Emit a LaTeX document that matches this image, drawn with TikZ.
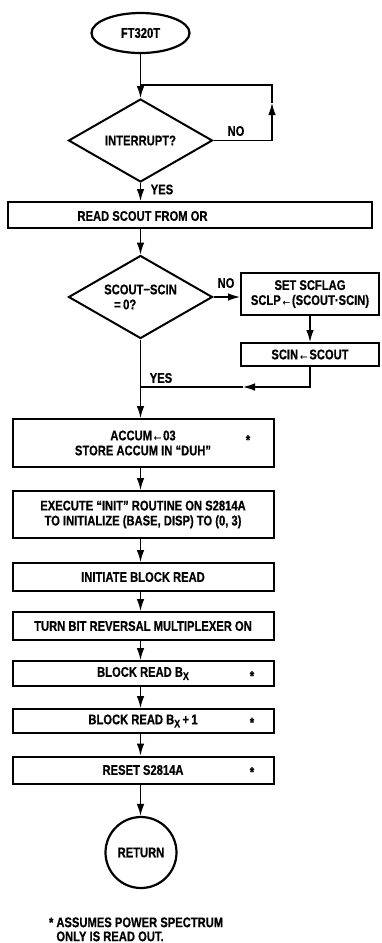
\documentclass[tikz,border=0pt]{standalone}
\usepackage{fontspec}
\setmainfont{Liberation Sans}[FakeStretch=0.8,BoldFeatures={FakeBold=0.6}]
\usepackage{tikz}
\usetikzlibrary{shapes.geometric,arrows.meta}
\newcommand{\fcsub}[1]{\raisebox{-1.6pt}{\fontsize{5.5}{6}\selectfont #1}}
\tikzset{
  fcbox/.style={rectangle,draw,line width=1pt,inner sep=1pt,align=center,minimum width=130.5pt},
  fcdec/.style={diamond,draw,line width=1pt,inner sep=0pt,aspect=1.7,minimum width=72pt,minimum height=41.5pt,align=center},
  fcterm/.style={ellipse,draw,line width=1.1pt,minimum width=49pt,minimum height=20pt},
  fcret/.style={circle,draw,line width=1.1pt,minimum size=35.5pt},
  fcflow/.style={-{Latex[length=6pt,width=3.8pt]},line width=0.65pt},
  fcline/.style={line width=0.65pt},
  fclab/.style={inner sep=0pt},
  fcstar/.style={inner sep=0pt}
}

\begin{document}
\begin{tikzpicture}[x=0.5pt,y=-0.5pt,font=\fontsize{7}{7.5}\selectfont\bfseries]
  \useasboundingbox (0,0) rectangle (381,943);
  \node[fcterm] (st) at (140.5,33) {FT320T};
  \node[fcdec] (int) at (140.5,140.5) {INTERRUPT?};
  \coordinate (lpA) at (140.5,85);
  \coordinate (lpB) at (272,85);
  \coordinate (lpR) at (272,103);
  \node[fcbox,minimum width=182pt,minimum height=13pt] (rd) at (190,215) {};
  \node[fclab] (rdt) at (142.5,216) {READ SCOUT FROM OR};
  \node[fcdec,align=left] (sc) at (140.5,297) {SCOUT−SCIN\\\hspace*{5pt}=\,0?};
  \node[fcbox,minimum width=69pt,minimum height=21pt] (set) at (310,294) {SET SCFLAG\\SCLP←(SCOUT·SCIN)};
  \node[fcbox,minimum width=69pt,minimum height=11.5pt] (scin) at (310,354.5) {SCIN←SCOUT};
  \coordinate (jm) at (243,387);
  \coordinate (jn) at (140.5,387);
  \node[fcbox,minimum height=24pt] (acc) at (143,443) {ACCUM←03\\STORE ACCUM IN ``DUH''};
  \node[fcstar] (accs) at (248,440) {*};
  \node[fcbox,minimum height=23.5pt] (exe) at (143,514.5) {EXECUTE ``INIT'' ROUTINE ON S2814A\\TO INITIALIZE (BASE, DISP) TO (0, 3)};
  \node[fcbox,minimum height=14pt] (ini) at (143,577) {INITIATE BLOCK READ};
  \node[fcbox,minimum height=14pt] (turn) at (143,626) {TURN BIT REVERSAL MULTIPLEXER ON};
  \node[fcbox,minimum height=12.5pt] (bx) at (143,673.5) {BLOCK READ B\fcsub{X}};
  \node[fcstar] (bxs) at (252,676) {*};
  \node[fcbox,minimum height=12pt] (bx1) at (143,721) {BLOCK READ B\fcsub{X}\,+\,1};
  \node[fcstar] (bx1s) at (252,722.5) {*};
  \node[fcbox,minimum height=13.5pt] (rst) at (143,770) {RESET S2814A};
  \node[fcstar] (rsts) at (252,772) {*};
  \node[fcret] (ret) at (141,852.5) {RETURN};
  \node[fclab,anchor=north west,align=left,font=\fontsize{7}{7}\selectfont\bfseries] (note) at (56,917)
    {\llap{*\hspace{1.5pt}}ASSUMES POWER SPECTRUM\\ONLY IS READ OUT.};
  % interrupt wait loop
  \draw[fcflow] (st) -- (int);
  \draw[fcflow] (int.east) -| (lpR);
  \draw[fcline] (lpR) -- (lpB) -- (lpA);
  \node[fclab] (no1) at (236,131) {NO};
  \draw[fcflow] (int) -- (int.south |- rd.north);
  \node[fclab] (yes1) at (162,189.5) {YES};
  % scout test
  \draw[fcflow] (int.south |- rd.south) -- (sc);
  \draw[fcflow] (sc.east) -- (sc.east -| set.west);
  \node[fclab] (no2) at (226,283) {NO};
  \draw[fcflow] (set) -- (scin);
  \draw[fcflow] (scin.south) |- (jm);
  \draw[fcline] (jm) -- (jn);
  \draw[fcflow] (sc) -- (sc.south |- acc.north);
  \node[fclab] (yes2) at (161,378) {YES};
  % block read sequence
  \draw[fcflow] (sc.south |- acc.south) -- (sc.south |- exe.north);
  \draw[fcflow] (sc.south |- exe.south) -- (sc.south |- ini.north);
  \draw[fcflow] (sc.south |- ini.south) -- (sc.south |- turn.north);
  \draw[fcflow] (sc.south |- turn.south) -- (sc.south |- bx.north);
  \draw[fcflow] (sc.south |- bx.south) -- (sc.south |- bx1.north);
  \draw[fcflow] (sc.south |- bx1.south) -- (sc.south |- rst.north);
  \draw[fcflow] (sc.south |- rst.south) -- (sc.south |- ret.north);
\end{tikzpicture}
\end{document}
